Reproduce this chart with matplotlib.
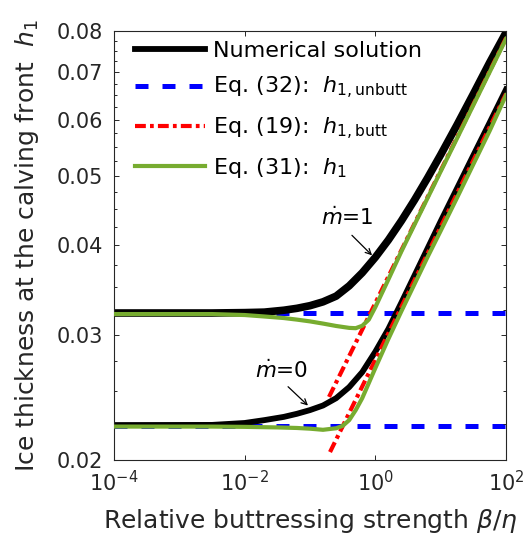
import matplotlib
matplotlib.use('Agg')
from matplotlib import pyplot as plt
from matplotlib.ticker import MultipleLocator, FormatStrFormatter, NullLocator, NullFormatter

# Values (x = beta/eta, y = h_1)
grid_x = [1e-4, 0.00316, 0.01, 0.02, 0.0398, 0.0631, 0.1, 0.158, 0.251, 0.398, 0.631,
          1.0, 1.585, 2.51, 3.98, 6.31, 10.0, 17.8, 31.6, 56.2, 100]

# numerical solution, mdot = 1 and mdot = 0
num1_h = [0.03216, 0.03216, 0.03220, 0.03225, 0.03245, 0.03265, 0.03293, 0.03334, 0.03396, 0.03511, 0.03663,
          0.03850, 0.04072, 0.04333, 0.04634, 0.04977, 0.05362, 0.05907, 0.06526, 0.07224, 0.07960]
num0_h = [0.02239, 0.02240, 0.02254, 0.02275, 0.02299, 0.02322, 0.02350, 0.02385, 0.02442, 0.02531, 0.02657,
          0.02838, 0.03055, 0.03327, 0.03631, 0.03963, 0.04325, 0.04811, 0.05352, 0.05950, 0.06622]

# Eq. (31)
eq31_1_x = [1e-4, 0.00316, 0.01, 0.02, 0.0398, 0.0631, 0.1, 0.158, 0.251, 0.398, 0.501, 0.631, 0.794,
            1.0, 1.585, 2.51, 3.98, 6.31, 10.0, 17.8, 31.6, 56.2, 100]
eq31_1_h = [0.03205, 0.03205, 0.03195, 0.03180, 0.03164, 0.03148, 0.03130, 0.03108, 0.03084, 0.03065, 0.03062,
            0.03086, 0.03148, 0.03278, 0.03585, 0.03926, 0.04280, 0.04664, 0.05082, 0.05655, 0.06295, 0.07006, 0.07798]

eq31_0_x = [1e-4, 0.00316, 0.01, 0.0316, 0.0631, 0.1, 0.158, 0.251, 0.316, 0.398, 0.501, 0.631,
            1.0, 1.585, 2.51, 3.98, 6.31, 10.0, 17.8, 31.6, 56.2, 100]
eq31_0_h = [0.02228, 0.02228, 0.02226, 0.02222, 0.02218, 0.02213, 0.02205, 0.02216, 0.02233, 0.02275, 0.02350,
            0.02443, 0.02692, 0.02958, 0.03236, 0.03532, 0.03855, 0.04194, 0.04667, 0.05200, 0.05794, 0.06500]

# Eq. (32) unbuttressed limits
unbutt_x = [1e-4, 100]
unbutt1_h = [0.03216, 0.03216]
unbutt0_h = [0.02232, 0.02232]

# Eq. (19) buttressed limits
butt1_x = [0.1954, 100]
butt1_h = [0.02452, 0.0782]
butt0_x = [0.2025, 100]
butt0_h = [0.02052, 0.0653]

GREEN = '#77AC30'
DARK = '#262626'

def main():
    fig = plt.figure(figsize=(5.26, 5.36), dpi=100)
    ax = fig.add_axes([0.2167, 0.1418, 0.7453, 0.8004])

    # blue dashed
    ax.plot(unbutt_x, unbutt1_h, color='blue', lw=3.6, dashes=(2.6, 2.8), zorder=1)
    ax.plot(unbutt_x, unbutt0_h, color='blue', lw=3.6, dashes=(2.6, 2.8), zorder=1,
            label=r'Eq. (32):  $h_{\mathregular{1,unbutt}}$')
    # numerical solution
    ax.plot(grid_x, num1_h, color='black', lw=5.5, zorder=2)
    ax.plot(grid_x, num0_h, color='black', lw=4.2, zorder=2, label='Numerical solution')
    # red dash-dot
    ax.plot(butt1_x, butt1_h, color='red', lw=3.0, dashes=(2.6, 1.0, 0.9, 1.0), zorder=3)
    ax.plot(butt0_x, butt0_h, color='red', lw=3.0, dashes=(2.6, 1.0, 0.9, 1.0), zorder=3,
            label=r'Eq. (19):  $h_{\mathregular{1,butt}}$')
    # Eq. (31)
    ax.plot(eq31_1_x, eq31_1_h, color=GREEN, lw=3.0, zorder=4)
    ax.plot(eq31_0_x, eq31_0_h, color=GREEN, lw=3.0, zorder=4,
            label=r'Eq. (31):  $h_{\mathregular{1}}$')

    ax.set_xscale('log')
    ax.set_yscale('log')
    ax.set_xlim(1e-4, 1e2)
    ax.set_ylim(0.02, 0.08)
    ax.set_xticks([1e-4, 1e-2, 1e0, 1e2])
    ax.xaxis.set_minor_locator(NullLocator())
    ax.yaxis.set_major_locator(MultipleLocator(0.01))
    ax.yaxis.set_major_formatter(FormatStrFormatter('%.2f'))
    ax.yaxis.set_minor_locator(MultipleLocator(0.0025))
    ax.yaxis.set_minor_formatter(NullFormatter())
    ax.tick_params(which='both', direction='in', top=True, right=True,
                   color=DARK, labelcolor=DARK, labelsize=15)
    ax.tick_params(which='major', length=3.6, width=0.7)
    ax.tick_params(which='minor', length=2.5, width=0.7)
    ax.tick_params(axis='y', pad=8)
    ax.tick_params(axis='x', pad=7.5)
    for s in ax.spines.values():
        s.set_color(DARK)
        s.set_linewidth(0.8)

    ax.set_xlabel(r'Relative buttressing strength $\beta/\eta$', fontsize=18, color=DARK, labelpad=8)
    ax.set_ylabel(r'Ice thickness at the calving front  $h_1$', fontsize=18, color=DARK, labelpad=11)

    # annotations
    ax.text(0.369, 0.0438, r'$\dot{m}$=1', fontsize=15.5, ha='center', va='center')
    ax.annotate('', xy=(0.955, 0.0385), xytext=(0.409, 0.0416),
                arrowprops=dict(arrowstyle='->', lw=0.9, color='black'))
    ax.text(0.0373, 0.0267, r'$\dot{m}$=0', fontsize=15.5, ha='center', va='center')
    ax.annotate('', xy=(0.1, 0.0237), xytext=(0.043, 0.0255),
                arrowprops=dict(arrowstyle='->', lw=0.9, color='black'))

    h, l = ax.get_legend_handles_labels()
    order = [1, 0, 2, 3]
    ax.legend([h[i] for i in order], [l[i] for i in order], loc='upper left',
              frameon=False, fontsize=16, handlelength=3.15, handletextpad=0.36,
              labelspacing=0.64, borderaxespad=0.2, bbox_to_anchor=(0.02, 1.008))

    fig.savefig('out.png', dpi=100)

if __name__ == "__main__":
    main()
